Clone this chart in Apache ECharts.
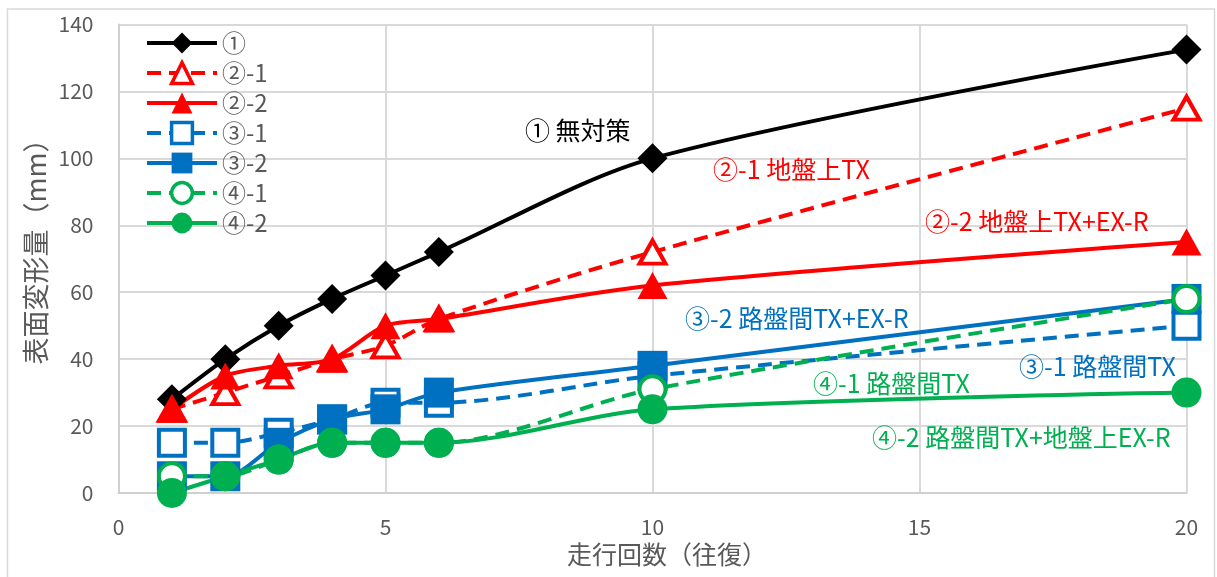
<!DOCTYPE html>
<html><head><meta charset="utf-8">
<script src="https://cdn.jsdelivr.net/npm/echarts/dist/echarts.min.js"></script>
<style>html,body{margin:0;padding:0;background:#fff}#c{width:1217px;height:577px}</style>
</head><body><div id="c"></div>
<script>
// ---- data ----
const xValues = [1, 2, 3, 4, 5, 6, 10, 20];
const s1  = [28, 40, 50, 58, 65, 72, 100, 132.5];   // ①
const s21 = [25, 30, 35, 40, 44, 52, 72, 115];      // ②-1
const s22 = [25, 35, 38, 40, 50, 52, 62, 75];       // ②-2
const s31 = [15, 15, 18, 22, 27, 27, 35, 50];       // ③-1
const s32 = [5, 5, 15, 22, 25, 30, 38, 58];         // ③-2
const s41 = [5, 5, 10, 15, 15, 15, 31, 58];         // ④-1
const s42 = [0, 5, 10, 15, 15, 15, 25, 30];         // ④-2
const seriesNames = ['①', '②-1', '②-2', '③-1', '③-2', '④-1', '④-2'];
const xTicks = [0, 5, 10, 15, 20];
const yTicks = [0, 20, 40, 60, 80, 100, 120, 140];
const xTitle = '走行回数（往復）';
const yTitle = '表面変形量（mm）';
const notes = [
  {text: '① 無対策', color: '#000000'},
  {text: '②-1 地盤上TX', color: '#FF0000'},
  {text: '②-2 地盤上TX+EX-R', color: '#FF0000'},
  {text: '③-2 路盤間TX+EX-R', color: '#0070C0'},
  {text: '③-1 路盤間TX', color: '#0070C0'},
  {text: '④-1 路盤間TX', color: '#00B050'},
  {text: '④-2 路盤間TX+地盤上EX-R', color: '#00B050'}
];
// ---- styling ----
const FONT = '"Noto Sans CJK JP", "Noto Sans", sans-serif';
const notePos = [[525,130],[713,169],[925,221],[685,318],[1019,366],[813,383],[872,437]];
const hollowFlags = [false, true, false, true, false, true, false];

function mk(name, vals, color, symbol, hollow, dashed, size) {
  return {
    name: name, type: 'line', smooth: 0.3,
    data: xValues.map((x, i) => [x, vals[i]]),
    color: color,
    symbol: symbol,
    symbolSize: hollow ? size.map(v => v - 4) : size,
    lineStyle: {color: color, width: 4, type: dashed ? [14, 8] : 'solid'},
    itemStyle: hollow ? {color: '#FFFFFF', borderColor: color, borderWidth: 4, opacity: 1}
                      : {color: color, borderColor: color, borderWidth: 0, opacity: 1},
    emphasis: {disabled: true},
    animation: false
  };
}

const chart = echarts.init(document.getElementById('c'), null, {renderer: 'canvas'});
const option = {
  backgroundColor: '#FFFFFF',
  animation: false,
  textStyle: {fontFamily: FONT},
  grid: {left: 118.5, right: 30.5, top: 24.5, bottom: 84, containLabel: false},
  xAxis: {
    type: 'value', min: xTicks[0], max: xTicks[xTicks.length - 1], interval: 5,
    axisLine: {show: true, lineStyle: {color: '#D0D0D0', width: 2}},
    axisTick: {show: false},
    splitLine: {show: true, lineStyle: {color: '#D9D9D9', width: 2}},
    axisLabel: {color: '#595959', fontSize: 21, margin: 24, fontFamily: FONT}
  },
  yAxis: {
    type: 'value', min: yTicks[0], max: yTicks[yTicks.length - 1], interval: 20,
    axisLine: {show: true, lineStyle: {color: '#D0D0D0', width: 2}},
    axisTick: {show: false},
    splitLine: {show: true, lineStyle: {color: '#D9D9D9', width: 2}},
    axisLabel: {color: '#595959', fontSize: 21, margin: 25, fontFamily: FONT}
  },
  legend: {
    orient: 'vertical', left: 145, top: 30, padding: 0,
    itemWidth: 70, itemHeight: 26, itemGap: 4,
    data: seriesNames.map((n, i) => ({
      name: n,
      lineStyle: {width: 4},
      itemStyle: hollowFlags[i] ? {borderWidth: 3.5} : {borderWidth: 0}
    })),
    textStyle: {color: '#595959', fontSize: 24, lineHeight: 26, fontFamily: FONT},
    selectedMode: false
  },
  series: [
    mk(seriesNames[0], s1, '#000000', 'diamond', false, false, [30, 30]),
    mk(seriesNames[1], s21, '#FF0000', 'triangle', true, true, [30, 27]),
    mk(seriesNames[2], s22, '#FF0000', 'triangle', false, false, [30, 27]),
    mk(seriesNames[3], s31, '#0070C0', 'rect', true, true, [30, 30]),
    mk(seriesNames[4], s32, '#0070C0', 'rect', false, false, [30, 30]),
    mk(seriesNames[5], s41, '#00B050', 'circle', true, true, [30, 30]),
    mk(seriesNames[6], s42, '#00B050', 'circle', false, false, [30, 30])
  ],
  graphic: [
    {type: 'rect', silent: true, z: -10, shape: {x: 7.5, y: 9, width: 1207, height: 620},
     style: {fill: 'none', stroke: '#D9D9D9', lineWidth: 1.5}},
    {type: 'text', x: 36, y: 245, rotation: Math.PI / 2, silent: true,
     style: {text: yTitle, align: 'center', verticalAlign: 'middle', fill: '#595959',
             font: '27px ' + FONT}},
    {type: 'text', x: 667, y: 554, silent: true,
     style: {text: xTitle, align: 'center', verticalAlign: 'middle', fill: '#595959',
             font: '25px ' + FONT}}
  ].concat(notes.map((n, i) => ({
    type: 'text', x: notePos[i][0], y: notePos[i][1], silent: true, z: 50,
    style: {text: n.text, align: 'left', verticalAlign: 'middle', fill: n.color,
            font: '25px ' + FONT}
  })))
};
chart.setOption(option);
</script>
</body></html>
